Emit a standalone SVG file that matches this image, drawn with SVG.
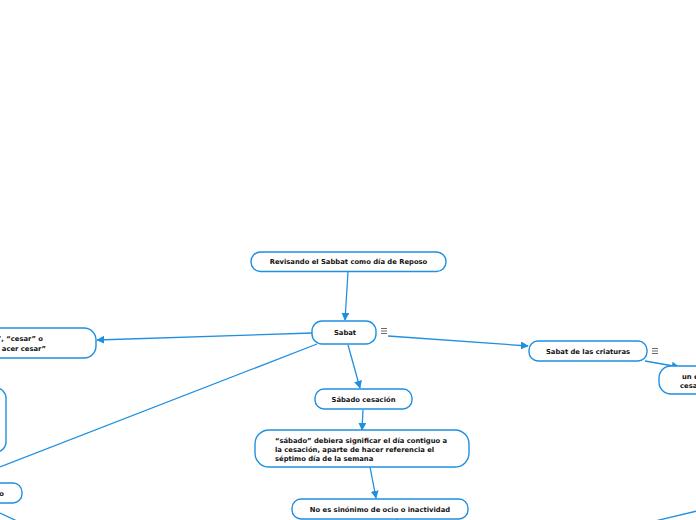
<svg xmlns="http://www.w3.org/2000/svg" width="696" height="520" viewBox="0 0 696 520">
<defs>
<style>
.n{fill:#fff;stroke:#1f8fe0;stroke-width:1.4}
.t{font-family:"DejaVu Sans",Verdana,sans-serif;font-weight:bold;font-size:6.8px;fill:#111}
.c{fill:none;stroke:#1f8fe0;stroke-width:1.3}
.i{fill:none;stroke:#444;stroke-width:0.8}
</style>
<marker id="a" viewBox="0 0 10 10" refX="9" refY="5" markerWidth="8" markerHeight="8" markerUnits="userSpaceOnUse" orient="auto">
<path d="M0,0 L10,5 L0,10 Z" fill="#1f8fe0"/>
</marker>
</defs>
<rect width="696" height="520" fill="#fff"/>
<g id="connectors">
<line class="c" x1="348" y1="272" x2="345" y2="320" marker-end="url(#a)"/>
<line class="c" x1="312" y1="333" x2="97" y2="340" marker-end="url(#a)"/>
<line class="c" x1="317" y1="344" x2="0" y2="467"/>
<line class="c" x1="348" y1="345" x2="360" y2="388" marker-end="url(#a)"/>
<line class="c" x1="363" y1="410" x2="362" y2="430" marker-end="url(#a)"/>
<line class="c" x1="370" y1="467" x2="376" y2="498" marker-end="url(#a)"/>
<line class="c" x1="397" y1="519" x2="397" y2="522"/>
<line class="c" x1="388" y1="336" x2="528" y2="346" marker-end="url(#a)"/>
<line class="c" x1="645" y1="361" x2="679" y2="367" marker-end="url(#a)"/>
<line class="c" x1="0" y1="513" x2="17" y2="521"/>
<line class="c" x1="655" y1="521" x2="697" y2="511"/>
</g>
<g id="n-revisando">
<rect class="n" x="251" y="252" width="195" height="19.5" rx="9.5"/>
<text class="t" x="348.5" y="264" text-anchor="middle">Revisando el Sabbat como día de Reposo</text>
</g>
<g id="n-sabat">
<rect class="n" x="312" y="321" width="64" height="23" rx="10"/>
<text class="t" x="345" y="335" text-anchor="middle">Sabat</text>
<path class="i" d="M381,328.5h6M381,331h6M381,333.5h6"/>
</g>
<g id="n-cesar">
<rect class="n" x="-60" y="328" width="156" height="30" rx="12"/>
<text class="t" x="43" y="341" text-anchor="end">”, “cesar” o</text>
<text class="t" x="46" y="351" text-anchor="end">acer cesar”</text>
</g>
<g id="n-left">
<rect class="n" x="-60" y="388" width="66" height="64" rx="10"/>
</g>
<g id="n-bottomleft">
<rect class="n" x="-60" y="483" width="82" height="20" rx="9"/>
<text class="t" x="4" y="495.5" text-anchor="end">o</text>
</g>
<g id="n-sabado">
<rect class="n" x="315" y="389" width="97" height="20" rx="9"/>
<text class="t" x="363.5" y="401.5" text-anchor="middle">Sábado cesación</text>
</g>
<g id="n-debiera">
<rect class="n" x="255" y="430" width="214" height="37" rx="14"/>
<text class="t" x="275" y="443">“sábado” debiera significar el día contiguo a</text>
<text class="t" x="275" y="452">la cesación, aparte de hacer referencia el</text>
<text class="t" x="275" y="461">séptimo día de la semana</text>
</g>
<g id="n-ocio">
<rect class="n" x="292" y="499" width="176" height="20" rx="9"/>
<text class="t" x="380" y="511.5" text-anchor="middle">No es sinónimo de ocio o inactividad</text>
</g>
<g id="n-criaturas">
<rect class="n" x="529" y="341" width="118" height="20" rx="9"/>
<text class="t" x="588" y="353.5" text-anchor="middle">Sabat de las criaturas</text>
<path class="i" d="M652,348.5h6M652,351h6M652,353.5h6"/>
</g>
<g id="n-un">
<rect class="n" x="659" y="366" width="80" height="28" rx="12"/>
<text class="t" x="682" y="379">un e</text>
<text class="t" x="680" y="388">cesa</text>
</g>
</svg>
